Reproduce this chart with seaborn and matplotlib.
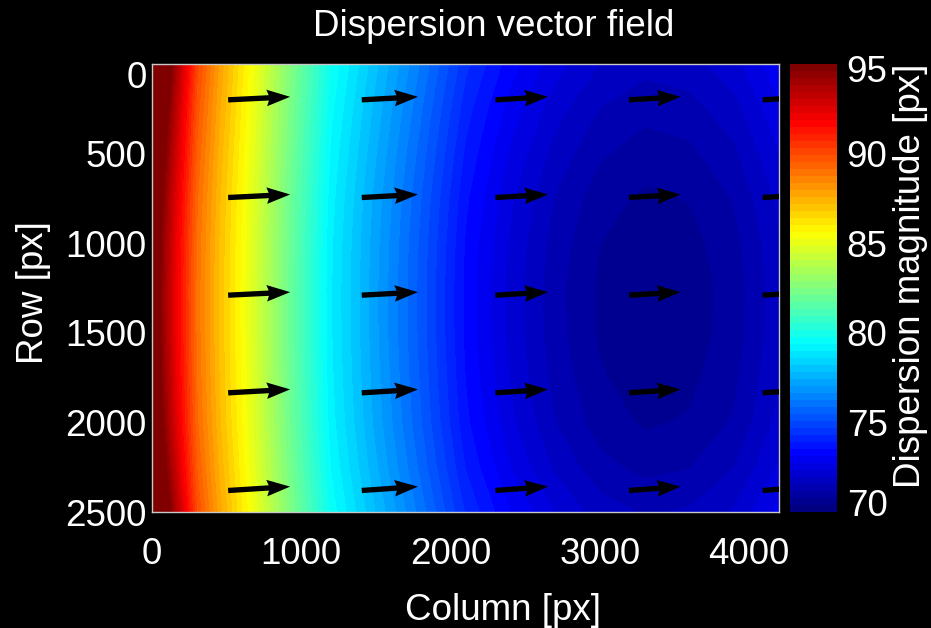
import numpy as np
import matplotlib
matplotlib.use("Agg")
import matplotlib.pyplot as plt
import seaborn as sns
from matplotlib.colors import Normalize, LinearSegmentedColormap
from matplotlib.cm import ScalarMappable
from matplotlib.transforms import ScaledTranslation

# magnitude profile along the image columns (centre row)
col_px = [0, 150, 300, 450, 600, 750, 900, 1050, 1200, 1500, 1800,
          2100, 2400, 2700, 3000, 3300, 3600, 3900, 4200]
col_mag = [96.0, 92.3, 89.0, 87.1, 85.5, 83.9, 82.2, 80.6, 79.0, 77.1, 75.3,
           73.4, 72.2, 71.3, 70.7, 70.45, 70.55, 70.95, 71.8]
# how strongly each column rises towards the top / bottom edge
col_edge = [2.6, 1.9, 1.1, 0.8, 0.65, 0.6, 0.6, 0.65, 0.7, 0.8, 0.9,
            1.0, 1.1, 1.2, 1.25, 1.25, 1.25, 1.25, 1.25]

# rise towards top / bottom rows
row_px = [0, 250, 500, 750, 1000, 1250, 1500, 1750, 2000, 2250, 2500]
row_add = [1.0, 0.68, 0.42, 0.20, 0.07, 0.01, 0.02, 0.10, 0.22, 0.48, 0.85]

# quiver samples
arrow_cols = [510, 1405, 2300, 3195, 4090]
arrow_rows = [200, 745, 1290, 1835, 2380]
arrow_u = [86.0, 78.0, 73.0, 71.5, 72.0]
arrow_v = [-3.5, -3.5, -3.5, -4.0, -4.5]

sns.set_theme(style="dark", rc={"axes.facecolor": "black",
                                "figure.facecolor": "black"})
plt.rcParams["font.family"] = ["Liberation Sans", "DejaVu Sans"]
FS = 26.5

mag = np.array(col_mag)[None, :] + np.outer(row_add, col_edge)
X, Y = np.meshgrid(col_px, row_px)
U, V = np.meshgrid(arrow_u, arrow_v)
QX, QY = np.meshgrid(arrow_cols, arrow_rows)

# MATLAB style jet, 64 colours
jet_ml = LinearSegmentedColormap.from_list("jet_ml", [
    (0.0, (0, 0, 0.5)), (0.125, (0, 0, 1)), (0.375, (0, 1, 1)),
    (0.625, (1, 1, 0)), (0.875, (1, 0, 0)), (1.0, (0.5, 0, 0))], N=64)
norm = Normalize(vmin=70, vmax=95)
levels = np.concatenate(([60.0], 70 + 25 / 64 * np.arange(65), [120.0]))

fig = plt.figure(figsize=(9.31, 6.28), dpi=100, facecolor="black")
ax = fig.add_axes([152 / 931, 116 / 628, 627 / 931, 448 / 628])
ax.set_facecolor("black")

ax.contourf(X, Y, mag, levels=levels, cmap=jet_ml, norm=norm)
ax.quiver(QX, QY, U, V, angles="xy", scale_units="xy", scale=1 / 4.83,
          pivot="tail", color="black", width=0.0085, headwidth=3.1,
          headlength=4.4, headaxislength=4.0, zorder=3)

ax.set_xlim(0, 4200)
ax.set_ylim(2500, 0)
ax.set_xticks([0, 1000, 2000, 3000, 4000])
ax.set_yticks([0, 500, 1000, 1500, 2000, 2500])
ax.tick_params(direction="in", length=5, width=0.8, color="#303030",
               labelcolor="white", labelsize=FS, top=True, right=True)
ax.tick_params(axis="x", pad=18)
ax.tick_params(axis="y", pad=4)
for sp in ax.spines.values():
    sp.set_color("#c8c8c8")
    sp.set_linewidth(1)
    sp.set_visible(True)

ax.set_xlabel("Column [px]", color="white", fontsize=FS)
ax.xaxis.set_label_coords((503 - 152) / 627, (512 - 610) / 448)
ax.xaxis.label.set_va("center")
ax.set_ylabel("Row [px]", color="white", fontsize=FS)
ax.yaxis.set_label_coords((33 - 152) / 627, (512 - 293) / 448)
ax.yaxis.label.set_va("center")

# the edge labels sit a little inside the axes, as in the original
first_y = ax.get_yticklabels()[0]
first_y.set_transform(first_y.get_transform()
                      + ScaledTranslation(0, -11 / 100, fig.dpi_scale_trans))

fig.text(494 / 931, 1 - 26 / 628, "Dispersion vector field", color="white",
         fontsize=FS, ha="center", va="center")

cax = fig.add_axes([790 / 931, 116 / 628, 47 / 931, 448 / 628])
cb = fig.colorbar(ScalarMappable(norm=norm, cmap=jet_ml), cax=cax,
                  ticks=[70, 75, 80, 85, 90, 95])
cb.outline.set_visible(False)
cb.ax.tick_params(length=0, labelcolor="white", labelsize=FS, pad=7)
cb_labels = cb.ax.get_yticklabels()
cb_labels[0].set_transform(cb_labels[0].get_transform()
                           + ScaledTranslation(0, 9 / 100, fig.dpi_scale_trans))
cb_labels[-1].set_transform(cb_labels[-1].get_transform()
                            + ScaledTranslation(0, -4 / 100, fig.dpi_scale_trans))
cb.set_label("Dispersion magnitude [px]", color="white", fontsize=FS)
cb.ax.yaxis.set_label_coords((910 - 790) / 47, (512 - 276) / 448)
cb.ax.yaxis.label.set_va("center")

fig.savefig("out.png", dpi=100, facecolor="black")
